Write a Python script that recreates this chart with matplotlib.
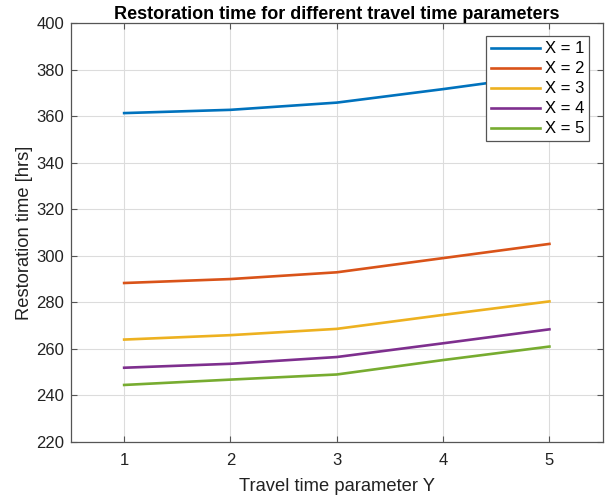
import matplotlib
matplotlib.use("Agg")
import matplotlib.pyplot as plt

plt.rcParams['font.family'] = ['Liberation Sans', 'DejaVu Sans']

# travel time parameter Y on the x axis
travel_y = [1, 2, 3, 4, 5]

# restoration time [hrs] for each X
x1 = [361.3, 362.7, 365.8, 371.6, 377.8]
x2 = [288.3, 290.0, 292.9, 299.0, 305.1]
x3 = [264.0, 265.9, 268.6, 274.6, 280.4]
x4 = [251.9, 253.6, 256.5, 262.4, 268.4]
x5 = [244.5, 246.8, 249.0, 255.2, 261.0]

series = [x1, x2, x3, x4, x5]
labels = ['X = 1', 'X = 2', 'X = 3', 'X = 4', 'X = 5']
colors = ['#0072BD', '#D95319', '#EDB120', '#7E2F8E', '#77AC30']

fig = plt.figure(figsize=(6.13, 4.96), dpi=100)
ax = fig.add_axes([0.1158, 0.1089, 0.983 - 0.1158, 0.9536 - 0.1089])

for vals, lab, c in zip(series, labels, colors):
    ax.plot(travel_y, vals, color=c, linewidth=1.9, label=lab)

ax.set_xlim(0.5, 5.5)
ax.set_ylim(220, 400)
ax.set_xticks(travel_y)
ax.set_yticks(range(220, 401, 20))
ax.grid(True, color='#dcdcdc', linewidth=0.8)
ax.set_axisbelow(True)

for sp in ax.spines.values():
    sp.set_color('#555555')
    sp.set_linewidth(0.9)
ax.tick_params(direction='in', top=True, right=True, length=4,
               color='#555555', labelsize=12, labelcolor='#222222')
ax.tick_params(axis='x', pad=8)
ax.tick_params(axis='y', pad=5)

ax.set_title('Restoration time for different travel time parameters',
             fontsize=13, fontweight='bold', pad=3)
ax.set_xlabel('Travel time parameter Y', fontsize=13.2, color='#222222',
              labelpad=7)
ax.set_ylabel('Restoration time [hrs]', fontsize=13.2, color='#222222',
              labelpad=2)

leg = ax.legend(loc='upper right', fontsize=12, fancybox=False,
                framealpha=1, edgecolor='#555555', handlelength=2.9,
                borderaxespad=0.8, labelspacing=0.3, handletextpad=0.3,
                borderpad=0.3)
leg.get_frame().set_linewidth(0.9)

fig.savefig('out.png', dpi=100)
